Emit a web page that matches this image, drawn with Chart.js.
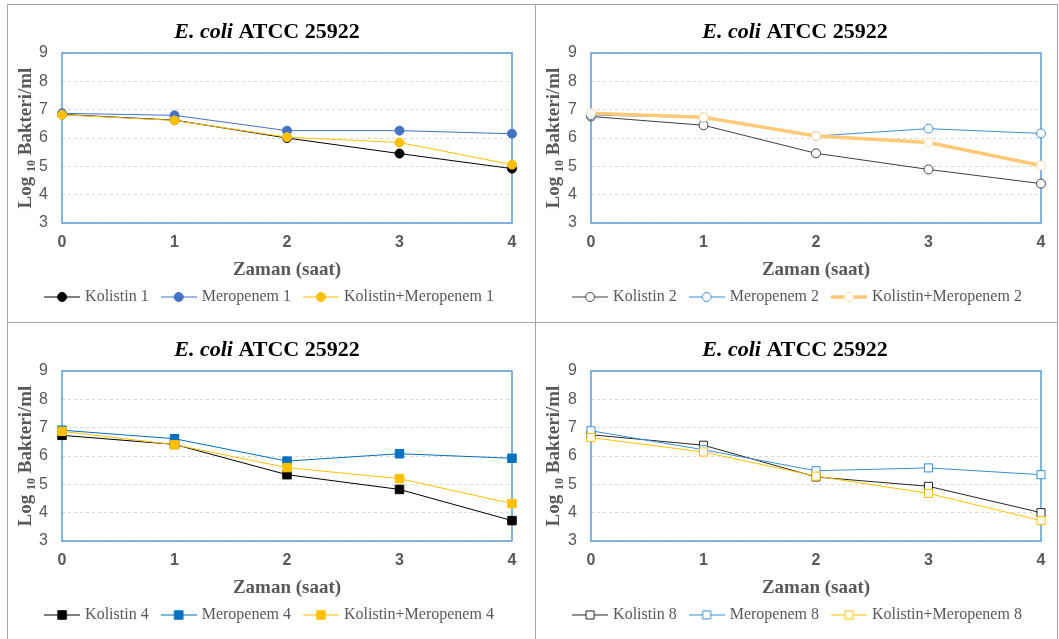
<!DOCTYPE html>
<html>
<head>
<meta charset="utf-8">
<script src="https://cdn.jsdelivr.net/npm/chart.js@4.4.1/dist/chart.umd.min.js"></script>
<style>
  body { margin: 0; background: #fff; width: 1059px; height: 639px; position: relative; overflow: hidden; }
  .ln { position: absolute; background: #a6a6a6; }
  canvas { position: absolute; }
</style>
</head>
<body>
<div class="ln" style="left:7px;top:4px;width:1051px;height:1px"></div>
<div class="ln" style="left:7px;top:322px;width:1051px;height:1px"></div>
<div class="ln" style="left:7px;top:4px;width:1px;height:640px"></div>
<div class="ln" style="left:535px;top:4px;width:1px;height:640px"></div>
<div class="ln" style="left:1057px;top:4px;width:1px;height:640px"></div>
<canvas id="c1" width="526" height="316" style="left:8px;top:5px"></canvas>
<canvas id="c2" width="520" height="316" style="left:536px;top:5px"></canvas>
<canvas id="c3" width="526" height="316" style="left:8px;top:323px"></canvas>
<canvas id="c4" width="520" height="316" style="left:536px;top:323px"></canvas>
<script>
// zaman noktalari (saat) ve log10 bakteri/ml degerleri
const hours = ['0', '1', '2', '3', '4'];
const yMin = 3, yMax = 9;

const kolistin1 = [6.83, 6.63, 6.00, 5.45, 4.92];
const meropenem1 = [6.87, 6.80, 6.26, 6.26, 6.15];
const kombinasyon1 = [6.82, 6.62, 6.03, 5.84, 5.06];

const kolistin2 = [6.76, 6.45, 5.46, 4.89, 4.39];
const meropenem2 = [6.81, 6.72, 6.07, 6.33, 6.16];
const kombinasyon2 = [6.87, 6.73, 6.07, 5.84, 5.03];

const kolistin4 = [6.73, 6.41, 5.34, 4.82, 3.72];
const meropenem4 = [6.91, 6.61, 5.82, 6.08, 5.92];
const kombinasyon4 = [6.87, 6.40, 5.59, 5.20, 4.32];

const kolistin8 = [6.75, 6.38, 5.26, 4.93, 4.00];
const meropenem8 = [6.89, 6.22, 5.48, 5.58, 5.34];
const kombinasyon8 = [6.65, 6.14, 5.29, 4.68, 3.72];

const ilaclar = ['Kolistin', 'Meropenem', 'Kolistin+Meropenem'];

const gray = '#595959';
const serif = '"Liberation Serif", "Times New Roman", serif';
const sans = '"Liberation Sans", Arial, sans-serif';

const panels = [
  { id: 'c1', dose: '1', data: [kolistin1, meropenem1, kombinasyon1], marker: 'circle', radius: 4.5, hollow: false,
    lines: ['#000000', '#4472C4', '#FFC000'], points: ['#000000', '#4472C4', '#FFC000'], widths: [1, 1, 1], padLeft: 21, padRight: 22, yWidth: 33 },
  { id: 'c2', dose: '2', data: [kolistin2, meropenem2, kombinasyon2], marker: 'circle', radius: 4.5, hollow: true,
    lines: ['#404040', '#3D8FD6', '#FFC978'], points: ['#404040', '#3D8FD6', '#FFDA9E'], widths: [1, 1, 3.5], padLeft: 20, padRight: 15, yWidth: 35 },
  { id: 'c3', dose: '4', data: [kolistin4, meropenem4, kombinasyon4], marker: 'rect', radius: 6, hollow: false,
    lines: ['#000000', '#0070C0', '#FFC000'], points: ['#000000', '#0070C0', '#FFC000'], widths: [1, 1, 1], padLeft: 21, padRight: 22, yWidth: 33 },
  { id: 'c4', dose: '8', data: [kolistin8, meropenem8, kombinasyon8], marker: 'rect', radius: 5.7, hollow: true,
    lines: ['#262626', '#3A8FD8', '#FFC000'], points: ['#262626', '#3A8FD8', '#FFC000'], widths: [1, 1, 1], padLeft: 20, padRight: 15, yWidth: 35 }
];

// legend icon: short line with the marker in the middle
function legendIcon(ds) {
  const c = document.createElement('canvas');
  c.width = 36; c.height = 14;
  const g = c.getContext('2d');
  g.strokeStyle = ds.borderColor;
  g.lineWidth = ds.borderWidth;
  g.beginPath(); g.moveTo(0, 7); g.lineTo(36, 7); g.stroke();
  g.lineWidth = ds.pointBorderWidth;
  g.fillStyle = ds.pointBackgroundColor;
  g.strokeStyle = ds.pointBorderColor;
  g.beginPath();
  if (ds.pointStyle === 'rect') {
    const s = ds.pointRadius * Math.SQRT1_2;
    g.rect(18 - s, 7 - s, 2 * s, 2 * s);
  } else {
    g.arc(18, 7, ds.pointRadius, 0, Math.PI * 2);
  }
  g.fill(); g.stroke();
  return c;
}

const decor = {
  id: 'decor',
  beforeDatasetsDraw(chart) {
    const { ctx, chartArea: a } = chart;
    ctx.save();
    ctx.strokeStyle = '#5B9BD5';
    ctx.lineWidth = 1.5;
    ctx.strokeRect(a.left, a.top, a.right - a.left, a.bottom - a.top);
    ctx.restore();
  },
  afterDraw(chart) {
    const { ctx } = chart;
    ctx.save();
    // baslik
    ctx.fillStyle = '#000';
    ctx.textBaseline = 'middle';
    const fItal = 'italic bold 22px ' + serif;
    const fBold = 'bold 22px ' + serif;
    ctx.font = fItal; const w1 = ctx.measureText('E. coli').width;
    ctx.font = fBold; const w2 = ctx.measureText(' ATCC 25922').width;
    let x = 259 - (w1 + w2) / 2;
    ctx.font = fItal; ctx.fillText('E. coli', x, 27);
    ctx.font = fBold; ctx.fillText(' ATCC 25922', x + w1, 27);
    // y ekseni basligi (alt simge 10)
    const a = chart.chartArea;
    ctx.translate(0, (a.top + a.bottom) / 2);
    ctx.rotate(-Math.PI / 2);
    ctx.fillStyle = gray;
    ctx.textBaseline = 'alphabetic';
    const fMain = 'bold 19px ' + serif;
    const fSub = 'bold 12px ' + serif;
    ctx.font = fMain; const p1 = ctx.measureText('Log ').width; const p3 = ctx.measureText(' Bakteri/ml').width;
    ctx.font = fSub; const p2 = ctx.measureText('10').width;
    x = -(p1 + p2 + p3) / 2;
    ctx.font = fMain; ctx.fillText('Log ', x, 23);
    ctx.font = fSub; ctx.fillText('10', x + p1, 27);
    ctx.font = fMain; ctx.fillText(' Bakteri/ml', x + p1 + p2, 23);
    ctx.restore();
  }
};

panels.forEach(p => {
  const datasets = p.data.map((vals, i) => ({
    label: ilaclar[i] + ' ' + p.dose,
    data: vals,
    borderColor: p.lines[i],
    borderWidth: p.widths[i],
    pointStyle: p.marker,
    pointRadius: p.radius,
    pointBorderWidth: 1,
    pointBorderColor: p.points[i],
    pointBackgroundColor: p.hollow ? '#ffffff' : p.points[i],
    tension: 0,
    clip: false,
    order: 3 - i
  }));

  new Chart(document.getElementById(p.id), {
    type: 'line',
    data: { labels: hours, datasets },
    options: {
      responsive: false,
      animation: false,
      layout: { padding: { top: 48, left: p.padLeft, right: p.padRight, bottom: 6 } },
      plugins: {
        title: { display: false },
        tooltip: { enabled: false },
        legend: {
          position: 'bottom',
          labels: {
            usePointStyle: true,
            pointStyleWidth: 30,
            padding: 15,
            color: gray,
            font: { family: serif, size: 16 },
            generateLabels(chart) {
              return chart.data.datasets.map((ds, i) => ({
                text: ds.label,
                pointStyle: legendIcon(ds),
                fillStyle: ds.pointBackgroundColor,
                strokeStyle: ds.borderColor,
                lineWidth: 0,
                fontColor: gray,
                hidden: false,
                datasetIndex: i
              }));
            }
          }
        }
      },
      scales: {
        x: {
          grid: { display: false, drawTicks: false },
          border: { display: false },
          ticks: { color: gray, padding: 10, font: { family: sans, size: 16, weight: 'bold' } },
          title: {
            display: true, text: 'Zaman (saat)', color: gray,
            font: { family: serif, size: 19, weight: 'bold', lineHeight: 1 },
            padding: { top: 0, bottom: -5.5 }
          },
          afterFit(s) { s.height = 51; }
        },
        y: {
          min: yMin, max: yMax,
          grid: { color: '#d9d9d9', drawTicks: false },
          border: { display: false, dash: [3, 3] },
          ticks: { stepSize: 1, color: gray, padding: 14, font: { family: sans, size: 16 } },
          afterFit(s) { s.width = p.yWidth; }
        }
      }
    },
    plugins: [decor]
  });
});
</script>
</body>
</html>
